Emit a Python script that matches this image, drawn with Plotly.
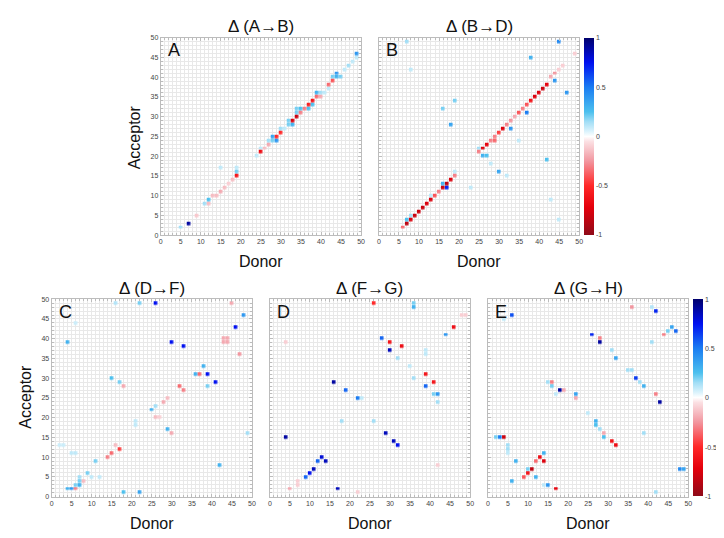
"""
Hydrogen-bond occupancy changes (donor x acceptor), five panels.
"""

import plotly.graph_objects as go

W, H = 724, 538
FONT = "Liberation Sans, Arial, sans-serif"
GRID = "#e8e8e8"
EDGE = "#bcbcbc"
TICK = "#444444"

# ── data: (donor, acceptor, delta) per panel ─────────────────────────────────
A_donor = [5, 7, 9, 11, 12, 12, 13, 14, 15, 16, 17, 15, 18, 19, 19, 19,
           24, 25, 25, 26, 27, 27, 28, 28, 29, 29, 30, 30, 31, 32, 32, 33, 33, 34, 34, 34,
           35, 35, 36, 37, 37, 38, 38, 39, 39, 40, 40, 41, 42, 42, 43, 43, 44, 44, 45,
           46, 47, 48, 49, 49]
A_acceptor = [2, 3, 5, 8, 9, 8, 10, 10, 11, 12, 13, 17, 14, 15, 16, 17,
              20, 21, 22, 22, 23, 24, 24, 25, 25, 24, 26, 27, 27, 28, 29, 29, 28, 30, 31, 32,
              32, 31, 32, 33, 32, 34, 33, 35, 36, 35, 36, 36, 37, 38, 39, 40, 40, 41, 40,
              42, 43, 44, 46, 45]
A_delta = [0.15, 0.9, -0.12, 0.15, 0.25, -0.15, -0.15, -0.15, -0.2, -0.15, -0.1, 0.1, -0.15, -0.6, 0.2, 0.1,
           0.1, -0.65, 0.1, -0.15, -0.2, 0.15, 0.2, 0.35, -0.5, 0.4, -0.5, 0.15, 0.1, 0.2, 0.2, -0.75, 0.3, -0.8, 0.2, 0.2,
           0.25, -0.3, -0.3, -0.55, 0.25, -0.6, 0.25, -0.35, 0.3, -0.2, 0.15, 0.1, 0.1, -0.35, -0.4, 0.2, 0.3, 0.4, 0.2,
           0.1, 0.15, 0.1, 0.4, 0.1]

B_donor = [6, 7, 7, 8, 8, 9, 10, 11, 12, 13, 13, 14, 15, 16, 16, 17, 17, 18, 19, 19,
           23, 25, 25, 26, 26, 27, 27, 28, 29, 29, 30, 30, 28, 31, 32, 33, 33, 34, 35, 36, 37, 37,
           38, 39, 40, 41, 42, 43, 44, 44, 45, 46, 47, 49, 45, 7, 8, 19, 16, 18, 38, 42, 32, 35, 43, 45]
B_acceptor = [2, 3, 4, 4, 5, 5, 6, 7, 8, 9, 10, 10, 11, 12, 13, 12, 13, 14, 15, 16,
              12, 21, 22, 22, 20, 20, 23, 24, 24, 25, 26, 16, 18, 27, 28, 27, 29, 30, 31, 32, 33, 31,
              34, 35, 36, 37, 38, 40, 41, 39, 42, 43, 36, 46, 49, 49, 42, 34, 32, 28, 45, 19, 15, 24, 9, 4]
B_delta = [-0.35, -0.85, 0.25, -0.75, 0.15, -0.8, -0.8, -0.8, -0.75, -0.75, 0.1, -0.4, -0.3, -0.8, 0.3, 0.7, -0.85, -0.75, -0.3, 0.1,
           0.1, -0.3, 0.15, -0.75, 0.3, 0.25, -0.7, -0.3, -0.35, -0.3, -0.45, 0.35, 0.1, -0.75, -0.3, 0.4, -0.25, -0.2, -0.4, -0.3, -0.4, 0.5,
           -0.6, -0.75, -0.75, -0.8, -0.7, -0.2, -0.25, 0.4, -0.1, -0.1, 0.4, -0.1, 0.45, 0.15, 0.1, 0.2, 0.2, 0.35, 0.3, 0.25, 0.1, 0.1, 0.1, 0.1]

C_donor = [4, 5, 6, 6, 7, 7, 7, 8, 9, 10, 12, 11, 14, 15, 16, 17, 5, 6, 2, 3,
           4, 6, 16, 22, 26, 30, 33, 46, 48, 45, 43, 44, 43, 44, 47, 38, 36, 37, 39, 41, 39,
           15, 17, 18, 32, 33, 28, 29, 25, 26, 26, 27, 21, 21, 29, 30, 49, 42, 18, 22]
C_acceptor = [2, 2, 2, 3, 3, 4, 5, 4, 6, 5, 5, 9, 10, 11, 13, 12, 11, 11, 13, 13,
              39, 44, 49, 49, 49, 39, 38, 43, 46, 49, 39, 39, 40, 40, 36, 33, 31, 31, 31, 29, 28,
              30, 29, 28, 28, 27, 24, 25, 22, 23, 20, 20, 19, 18, 17, 16, 16, 8, 1, 1]
C_delta = [0.3, 0.4, -0.3, 0.2, 0.3, 0.2, 0.15, -0.15, 0.2, 0.1, 0.1, 0.2, -0.3, -0.35, -0.15, -0.45, 0.1, 0.1, 0.08, 0.08,
           0.3, 0.08, 0.12, 0.2, 0.75, 0.75, 0.75, 0.75, 0.4, -0.2, -0.2, -0.2, -0.2, -0.2, -0.25, 0.3, 0.3, -0.35, 0.75, 0.75, 0.2,
           0.25, 0.2, -0.2, -0.35, -0.3, -0.2, -0.15, 0.3, 0.15, -0.15, -0.1, 0.1, 0.1, 0.3, -0.2, 0.15, 0.3, 0.25, 0.35]

D_donor = [26, 36, 36, 48, 49, 46, 44, 28, 30, 33, 30, 32, 39, 39, 4, 35, 36, 39, 41, 39,
           41, 42, 42, 16, 19, 22, 23, 18, 26, 4, 29, 31, 32, 13, 12, 14, 11, 10, 9, 7, 7, 5, 17, 22, 42]
D_acceptor = [49, 49, 48, 46, 46, 43, 41, 40, 39, 38, 37, 35, 37, 36, 39, 33, 30, 31, 29, 28,
              26, 26, 24, 29, 27, 25, 25, 19, 19, 15, 16, 14, 13, 10, 9, 9, 7, 6, 5, 4, 3, 2, 2, 1, 8]
D_delta = [-0.5, 0.2, 0.3, -0.1, -0.1, -0.65, 0.4, 0.55, -0.6, -0.65, 0.85, 0.15, 0.1, 0.1, -0.1, 0.1, 0.15, -0.6, -0.6, 0.55,
           0.2, 0.4, 0.15, 0.9, 0.55, 0.5, 0.1, 0.15, 0.15, 0.9, 0.85, 0.85, 0.75, 0.8, 0.55, 0.85, 0.85, 0.75, 0.55, -0.1, -0.1, -0.2, 0.85, -0.1, -0.1]

E_donor = [6, 4, 36, 41, 42, 46, 45, 47, 44, 41, 26, 28, 28, 31, 32, 35, 36, 37, 38, 39, 42, 43,
           15, 16, 16, 18, 19, 17, 22, 22, 25, 27, 27, 28, 29, 29, 31, 32, 39,
           2, 3, 4, 5, 5, 5, 7, 14, 13, 12, 14, 10, 11, 10, 9, 12, 6, 15, 17, 14, 42, 48, 49]
E_acceptor = [46, 45, 48, 48, 47, 43, 42, 42, 41, 39, 41, 40, 39, 37, 35, 32, 32, 30, 29, 28, 26, 24,
              29, 29, 28, 27, 27, 26, 26, 25, 21, 19, 18, 17, 16, 15, 14, 13, 16,
              15, 15, 15, 13, 12, 11, 9, 11, 10, 9, 9, 7, 7, 6, 5, 5, 4, 3, 2, 3, 1, 7, 7]
E_delta = [0.6, 0.1, -0.25, 0.12, 0.7, 0.35, 0.2, 0.55, -0.3, 0.15, 0.7, -0.3, 0.9, 0.15, 0.35, 0.15, 0.15, 0.65, 0.15, 0.3, -0.3, 0.9,
           0.15, -0.3, 0.2, 0.9, -0.2, 0.1, 0.35, -0.2, 0.1, 0.3, 0.25, 0.15, -0.2, 0.25, -0.6, -0.65, 0.15,
           0.2, 0.5, -0.8, 0.15, 0.15, 0.1, 0.3, 0.3, -0.65, -0.35, -0.75, 0.2, -0.85, -0.6, -0.4, 0.3, 0.3, 0.4, -0.7, 0.1, 0.15, 0.45, 0.35]

TICK_VALS = [0, 5, 10, 15, 20, 25, 30, 35, 40, 45, 50]
CBAR_VALS = [-1, -0.5, 0, 0.5, 1]
CBAR_TEXT = ["-1", "-0.5", "0", "0.5", "1"]

CSCALE = [
    [0.0, "#8e0a18"], [0.14, "#e4000c"], [0.25, "#ff2828"], [0.375, "#f2969f"],
    [0.425, "#f6bcc2"], [0.475, "#fbe0e3"], [0.5, "#ffffff"],
    [0.525, "#dcf3fc"], [0.575, "#a2def6"], [0.625, "#4cc0ee"], [0.75, "#1a7cf2"],
    [0.875, "#0010f0"], [1.0, "#00006c"],
]


def px(x):
    return x / W


def py(y):
    return 1 - y / H


def to_grid(donor, acceptor, delta):
    z = [[None] * 51 for _ in range(51)]
    for d, a, v in zip(donor, acceptor, delta):
        z[a][d] = v
    return z


# (name, letter, data, left px, top px, show y labels, coloraxis)
PANELS = [
    ("Δ (A→B)", "A", (A_donor, A_acceptor, A_delta), 152, 26, True, "coloraxis"),
    ("Δ (B→D)", "B", (B_donor, B_acceptor, B_delta), 372, 26, False, "coloraxis"),
    ("Δ (D→F)", "C", (C_donor, C_acceptor, C_delta), 42, 291, True, "coloraxis2"),
    ("Δ (F→G)", "D", (D_donor, D_acceptor, D_delta), 262, 291, False, "coloraxis2"),
    ("Δ (G→H)", "E", (E_donor, E_acceptor, E_delta), 482, 291, False, "coloraxis2"),
]
SIZE = 202

fig = go.Figure()
annotations = []
layout = {}

for i, (title, letter, data, left, top, ylab, cax) in enumerate(PANELS, start=1):
    xa = "x" if i == 1 else f"x{i}"
    ya = "y" if i == 1 else f"y{i}"
    fig.add_trace(go.Heatmap(
        x=list(range(51)), y=list(range(51)), z=to_grid(*data),
        coloraxis=cax, xaxis=xa, yaxis=ya, xgap=0.4, ygap=0.4,
        hovertemplate="Donor %{x}<br>Acceptor %{y}<br>Δ %{z}<extra></extra>",
    ))
    axis_common = dict(
        range=[0, 50], tickvals=TICK_VALS, showgrid=True, gridcolor=GRID, gridwidth=0.5,
        zeroline=False, showline=True, linecolor=EDGE, linewidth=1, mirror="ticks",
        ticks="inside", ticklen=3, tickcolor=EDGE,
        minor=dict(tickvals=list(range(51)), showgrid=True, gridcolor=GRID, gridwidth=0.5,
                   ticks="inside", ticklen=2, tickcolor=EDGE),
        tickfont=dict(size=7, color=TICK, family=FONT),
        fixedrange=True,
    )
    key_x = "xaxis" if i == 1 else f"xaxis{i}"
    key_y = "yaxis" if i == 1 else f"yaxis{i}"
    layout[key_x] = dict(axis_common, domain=[px(left), px(left + SIZE)], anchor=ya)
    layout[key_y] = dict(axis_common, domain=[py(top + 200), py(top)], anchor=xa,
                         showticklabels=ylab)

    annotations.append(dict(
        text=title, x=px(left + SIZE / 2), y=py(top - 11), xref="paper", yref="paper",
        showarrow=False, xanchor="center", yanchor="middle",
        font=dict(size=17, color="#111111", family=FONT),
    ))
    annotations.append(dict(
        text=letter, x=px(left + 5), y=py(top + 13), xref="paper", yref="paper",
        showarrow=False, xanchor="left", yanchor="middle",
        font=dict(size=18, color="#111111", family=FONT),
    ))
    annotations.append(dict(
        text="Donor", x=px(left + SIZE / 2), y=py(top + 227), xref="paper", yref="paper",
        showarrow=False, xanchor="center", yanchor="middle",
        font=dict(size=16, color="#111111", family=FONT),
    ))

for ax_x, ax_y in [(125, 127), (16, 390)]:
    annotations.append(dict(
        text="Acceptor", x=px(ax_x), y=py(ax_y), xref="paper", yref="paper",
        showarrow=False, textangle=-90, xanchor="center", yanchor="middle",
        font=dict(size=16, color="#111111", family=FONT),
    ))


def cbar(left, top):
    return dict(
        cmin=-1, cmax=1, colorscale=CSCALE,
        colorbar=dict(
            x=px(left), xanchor="left", y=py(top + 100), yanchor="middle",
            len=200 / H, lenmode="fraction", thickness=10, outlinewidth=0,
            tickvals=CBAR_VALS, ticktext=CBAR_TEXT, ticks="", ticklen=0,
            tickfont=dict(size=7, color=TICK, family=FONT), xpad=0, ypad=0,
        ),
    )


fig.update_layout(
    **layout,
    coloraxis=cbar(579, 26),
    coloraxis2=cbar(689, 291),
    annotations=annotations,
    width=W, height=H,
    margin=dict(l=0, r=0, t=0, b=0),
    paper_bgcolor="white",
    plot_bgcolor="white",
    font=dict(family=FONT),
    showlegend=False,
)

fig.write_html("out.html")
